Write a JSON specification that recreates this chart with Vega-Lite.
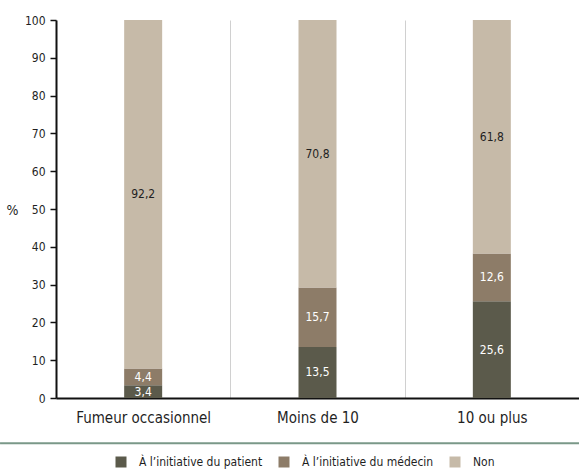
{
  "$schema": "https://vega.github.io/schema/vega-lite/v6.json",
  "width": 523,
  "height": 378,
  "autosize": "none",
  "padding": {"left": 56, "top": 20, "right": 0, "bottom": 72},
  "background": "white",
  "config": {
    "font": "DejaVu Sans Condensed",
    "view": {"stroke": null}
  },
  "data": {
    "values": [
      {"groupe": "Fumeur occasionnel", "initiative": "À l’initiative du patient", "ordre": 1, "valeur": 3.4, "etiquette": "3,4"},
      {"groupe": "Fumeur occasionnel", "initiative": "À l’initiative du médecin", "ordre": 2, "valeur": 4.4, "etiquette": "4,4"},
      {"groupe": "Fumeur occasionnel", "initiative": "Non", "ordre": 3, "valeur": 92.2, "etiquette": "92,2"},
      {"groupe": "Moins de 10", "initiative": "À l’initiative du patient", "ordre": 1, "valeur": 13.5, "etiquette": "13,5"},
      {"groupe": "Moins de 10", "initiative": "À l’initiative du médecin", "ordre": 2, "valeur": 15.7, "etiquette": "15,7"},
      {"groupe": "Moins de 10", "initiative": "Non", "ordre": 3, "valeur": 70.8, "etiquette": "70,8"},
      {"groupe": "10 ou plus", "initiative": "À l’initiative du patient", "ordre": 1, "valeur": 25.6, "etiquette": "25,6"},
      {"groupe": "10 ou plus", "initiative": "À l’initiative du médecin", "ordre": 2, "valeur": 12.6, "etiquette": "12,6"},
      {"groupe": "10 ou plus", "initiative": "Non", "ordre": 3, "valeur": 61.8, "etiquette": "61,8"}
    ]
  },
  "layer": [
    {
      "mark": {"type": "bar", "size": 38},
      "encoding": {
        "x": {
          "field": "groupe", "type": "nominal",
          "sort": ["Fumeur occasionnel", "Moins de 10", "10 ou plus"],
          "scale": {"paddingInner": 0, "paddingOuter": 0},
          "title": null,
          "axis": {
            "labelAngle": 0, "labelFontSize": 15, "labelColor": "#1f1f1f", "labelPadding": 12,
            "ticks": false, "domainColor": "#111111", "domainWidth": 2,
            "grid": true, "gridColor": "#d0d0d0", "gridWidth": 1, "tickBand": "extent"
          }
        },
        "y": {
          "field": "valeur", "type": "quantitative", "stack": "zero",
          "scale": {"domain": [0, 100], "nice": false},
          "title": "%",
          "axis": {
            "values": [0, 10, 20, 30, 40, 50, 60, 70, 80, 90, 100],
            "labelOverlap": false, "labelBound": false, "labelFlush": false,
            "grid": false, "domainColor": "#111111", "domainWidth": 2,
            "tickColor": "#111111", "tickWidth": 1.5, "tickSize": 6,
            "labelFontSize": 12, "labelColor": "#1f1f1f", "labelPadding": 5,
            "titleAngle": 0, "titleFontSize": 14, "titleFontWeight": "normal", "titleColor": "#1f1f1f",
            "titleX": -44, "titleY": 190, "titleAlign": "center", "titleBaseline": "middle"
          }
        },
        "color": {
          "field": "initiative", "type": "nominal",
          "scale": {
            "domain": ["À l’initiative du patient", "À l’initiative du médecin", "Non"],
            "range": ["#5b5a4b", "#8d7c68", "#c6baa8"]
          },
          "legend": {
            "title": null, "orient": "none", "direction": "horizontal",
            "legendX": 59, "legendY": 436,
            "symbolType": "square", "symbolSize": 121, "symbolStrokeWidth": 0,
            "labelFontSize": 12, "labelColor": "#1f1f1f", "labelOffset": 12,
            "columnPadding": 15
          }
        },
        "order": {"field": "ordre", "type": "quantitative"}
      }
    },
    {
      "transform": [
        {"stack": "valeur", "groupby": ["groupe"], "sort": [{"field": "ordre"}], "as": ["bas", "haut"]},
        {"calculate": "(datum.bas + datum.haut) / 2", "as": "milieu"}
      ],
      "mark": {"type": "text", "fontSize": 12, "baseline": "middle"},
      "encoding": {
        "x": {"field": "groupe", "type": "nominal", "sort": ["Fumeur occasionnel", "Moins de 10", "10 ou plus"], "scale": {"paddingInner": 0, "paddingOuter": 0}, "axis": null},
        "y": {"field": "milieu", "type": "quantitative", "axis": null},
        "text": {"field": "etiquette"},
        "color": {
          "condition": {"test": "datum.initiative == 'Non'", "value": "#1f1f1f"},
          "value": "#ffffff"
        }
      }
    },
    {
      "data": {"values": [{"debut": -0.107, "fin": 1.0}]},
      "mark": {"type": "rule", "color": "#7a9888", "strokeWidth": 2, "clip": false},
      "encoding": {
        "x": {"field": "debut", "type": "quantitative", "scale": {"domain": [0, 1]}, "axis": null},
        "x2": {"field": "fin"},
        "y": {"datum": -12, "type": "quantitative", "axis": null}
      }
    }
  ],
  "resolve": {"scale": {"x": "independent"}, "axis": {"y": "independent"}}
}
